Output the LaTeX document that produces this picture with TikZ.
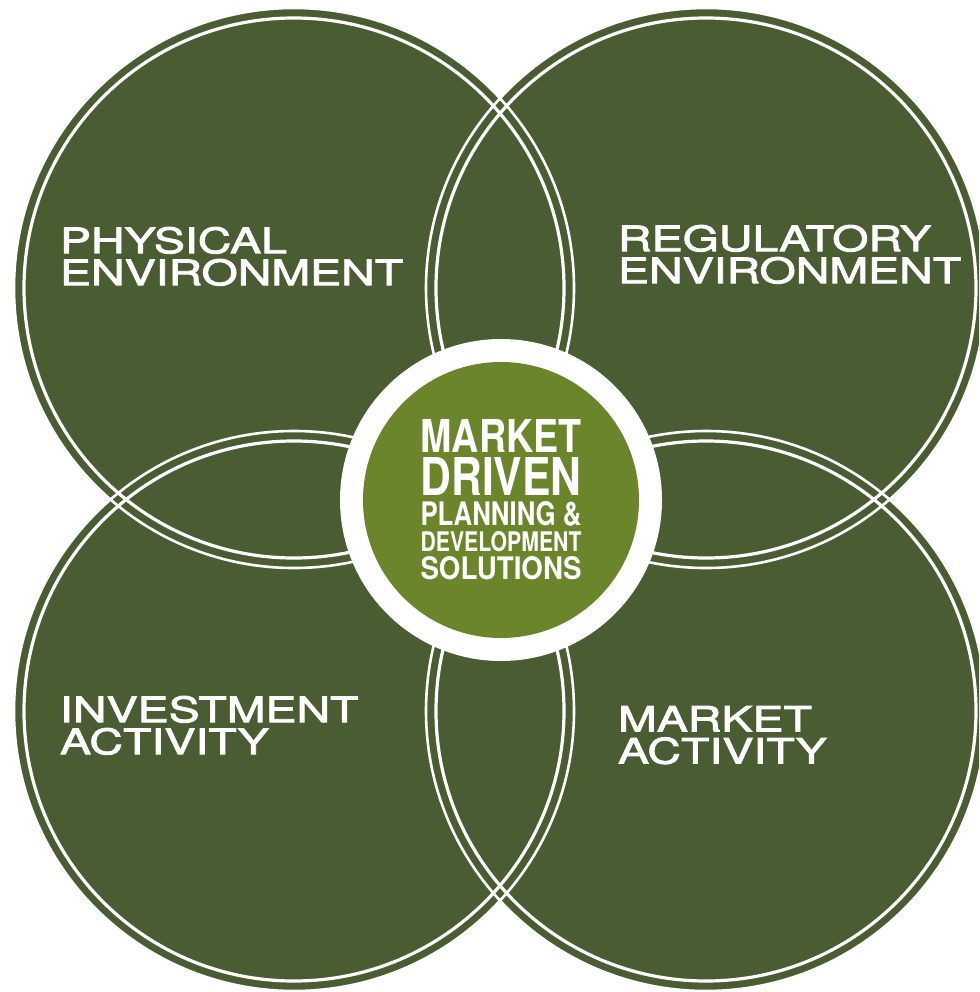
\documentclass[tikz,border=0pt]{standalone}
\usepackage{fontspec}
\usepackage{graphicx}
\usetikzlibrary{positioning}
\newfontfamily\wideheros[FakeStretch=1.33, FakeBold=2.5]{TeX Gyre Heros}
\newfontfamily\hubheros{TeX Gyre Heros}
\definecolor{venn_green}{RGB}{74,93,50}
\definecolor{hub_green}{RGB}{107,134,42}
\newcommand{\hubline}[2]{\hbox to 161pt{\resizebox{161pt}{#1}{#2}}}

\begin{document}
\begin{tikzpicture}[x=1pt, y=-1pt, every node/.style={inner sep=0pt, outer sep=0pt},
    disc/.style={circle, fill=venn_green, minimum size=560pt},
    rim/.style={white, line width=2.6pt},
    ring/.style={white, line width=3.2pt},
    venn label/.style={anchor=north west, align=left, text=white, font=\wideheros\fontsize{35}{32}\selectfont}]
  \useasboundingbox (0,0) rectangle (979,992);
  \clip (0,0) rectangle (979,992);
  % the four circles
  \node[disc] (phys) at (294,288) {};
  \node[disc] (regul) at (706,288) {};
  \node[disc] (invest) at (294,711) {};
  \node[disc] (mkt) at (706,711) {};
  \draw[rim] (phys.center) circle[radius=280];
  \draw[rim] (regul.center) circle[radius=280];
  \draw[rim] (invest.center) circle[radius=280];
  \draw[rim] (mkt.center) circle[radius=280];
  \draw[ring] (phys.center) circle[radius=270];
  \draw[ring] (regul.center) circle[radius=270];
  \draw[ring] (invest.center) circle[radius=270];
  \draw[ring] (mkt.center) circle[radius=270];
  % hub in the middle
  \node[circle, fill=white, minimum size=322pt] (hubrim) at (501,500) {};
  \node[circle, fill=hub_green, minimum size=276pt] (hubdisc) at (hubrim) {};
  \node[text=white, font=\hubheros\bfseries] (hub) at (hubdisc) {\vbox{\offinterlineskip
      \hubline{33pt}{MARKET}\vskip5pt
      \hubline{38pt}{DRIVEN}\vskip6pt
      \hubline{24pt}{PLANNING \&}\vskip5pt
      \hubline{20pt}{DEVELOPMENT}\vskip5pt
      \hubline{23pt}{SOLUTIONS}}};
  % labels
  \node[venn label] (physlbl) at (60,227) {PHYSICAL\\ENVIRONMENT};
  \node[venn label] (regullbl) at (618,225) {REGULATORY\\ENVIRONMENT};
  \node[venn label] (investlbl) at (60,696) {INVESTMENT\\ACTIVITY};
  \node[venn label] (mktlbl) at (618,706) {MARKET\\ACTIVITY};
\end{tikzpicture}
\end{document}
